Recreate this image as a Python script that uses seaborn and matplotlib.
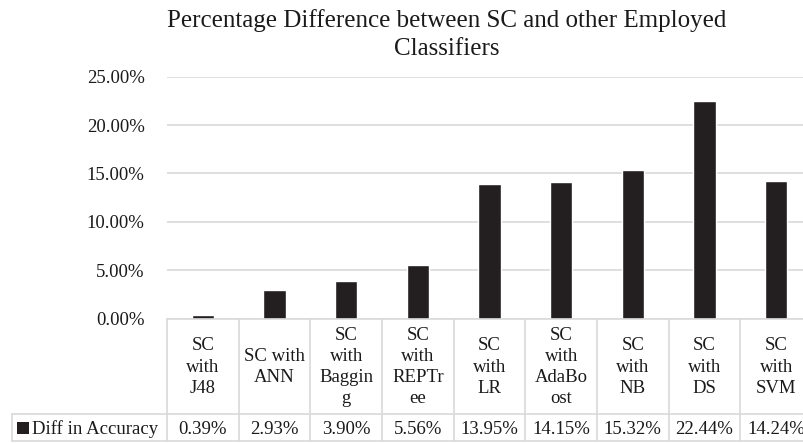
import matplotlib
matplotlib.use("Agg")
import matplotlib.pyplot as plt
import matplotlib.transforms as mtransforms
from matplotlib.patches import Rectangle
from matplotlib.ticker import PercentFormatter
import seaborn as sns
import pandas as pd

# Data
categories = ["SC with J48", "SC with ANN", "SC with Bagging", "SC with REPTree",
              "SC with LR", "SC with AdaBoost", "SC with NB", "SC with DS", "SC with SVM"]
header_labels = ["SC\nwith\nJ48", "SC with\nANN", "SC\nwith\nBaggin\ng", "SC\nwith\nREPTr\nee",
                 "SC\nwith\nLR", "SC\nwith\nAdaBo\nost", "SC\nwith\nNB", "SC\nwith\nDS", "SC\nwith\nSVM"]
diff_accuracy = [0.39, 2.93, 3.90, 5.56, 13.95, 14.15, 15.32, 22.44, 14.24]
series_name = "Diff in Accuracy"
title_lines = ["Percentage Difference between SC and other Employed", "Classifiers"]

sns.set_theme(style="white")
plt.rcParams["font.family"] = ["Liberation Serif", "DejaVu Serif"]

W, H = 804, 443
fig = plt.figure(figsize=(W / 100, H / 100), dpi=100)
text_col = "#1a1a1a"
fs = 13.5

# Plot area in pixel coordinates (top-left origin)
px_left, px_right = 167, 812
px_top, px_zero = 76.7, 318.5
ax = fig.add_axes([px_left / W, (H - px_zero) / H,
                   (px_right - px_left) / W, (px_zero - px_top) / H])

df = pd.DataFrame({"cat": categories, "val": [v / 100 for v in diff_accuracy]})
bar_color = "#231f20"
sns.barplot(data=df, x="cat", y="val", color=bar_color, width=0.31,
            saturation=1, ax=ax, zorder=3)

ax.set_xlim(-0.5, len(categories) - 0.5)
ax.set_ylim(0, 0.25)
ax.set_yticks([0, 0.05, 0.10, 0.15, 0.20, 0.25])
ax.yaxis.set_major_formatter(PercentFormatter(1.0, decimals=2))
ax.tick_params(axis="y", length=0, pad=16, labelsize=fs, labelcolor=text_col)
ax.set_xticks([])
ax.set_xlabel("")
ax.set_ylabel("")
ax.grid(axis="y", color="#d9d9d9", linewidth=1.2, zorder=0)
ax.grid(axis="x", visible=False)
for s in ax.spines.values():
    s.set_visible(False)

# Data table under the plot: x in data units, y in figure pixels
def fy(py):
    return (H - py) / H

trans = mtransforms.blended_transform_factory(ax.transData, fig.transFigure)
grid_col = "#d9d9d9"
row1_top, row1_bot, row2_bot = px_zero, 413.5, 441
n = len(categories)
key_left = 12

# Horizontal borders
fig.add_artist(plt.Line2D([-0.5, n - 0.5], [fy(row1_top)] * 2, transform=trans,
                          color=grid_col, lw=1.2))
for yb in (row1_bot, row2_bot):
    fig.add_artist(plt.Line2D([key_left / W, 1.02], [fy(yb)] * 2,
                              transform=fig.transFigure, color=grid_col, lw=1.2))
# Vertical borders
for k in range(n + 1):
    fig.add_artist(plt.Line2D([k - 0.5, k - 0.5], [fy(row1_top), fy(row2_bot)],
                              transform=trans, color=grid_col, lw=1.2))
fig.add_artist(plt.Line2D([key_left / W, key_left / W], [fy(row1_bot), fy(row2_bot)],
                          transform=fig.transFigure, color=grid_col, lw=1.2))

# Column headers and values
for i, (lab, v) in enumerate(zip(header_labels, diff_accuracy)):
    fig.text(i, fy(367), lab, transform=trans, ha="center", va="center",
             fontsize=fs, linespacing=1.33, color=text_col)
    fig.text(i, fy(434.5), f"{v:.2f}%", transform=trans, ha="center", va="baseline",
             fontsize=fs, color=text_col)

# Legend key cell
fig.add_artist(Rectangle((17 / W, fy(434)), 12 / W, 12 / H, transform=fig.transFigure,
                         facecolor=bar_color, edgecolor="none"))
fig.text(32 / W, fy(434.5), series_name, ha="left", va="baseline",
         fontsize=fs, color=text_col)

# Title, two lines
for line, base in zip(title_lines, (27, 55)):
    fig.text(447 / W, fy(base), line, ha="center", va="baseline", fontsize=18,
             color=text_col)

fig.savefig("out.png", dpi=100)
